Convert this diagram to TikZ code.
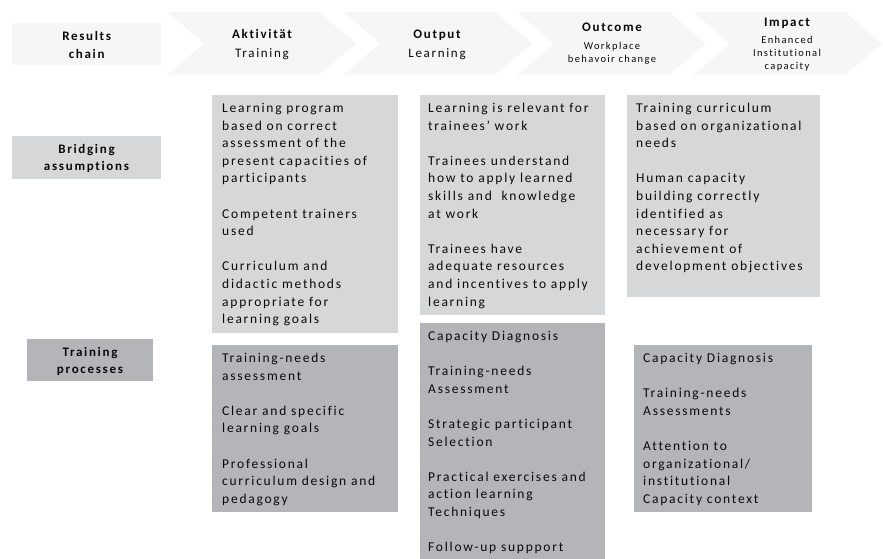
\documentclass[tikz,border=0pt]{standalone}
\usepackage{fontspec}
\setmainfont{Carlito}[LetterSpace=13,Ligatures=NoCommon]
\definecolor{chevfill}{HTML}{F6F6F6}
\definecolor{lightfill}{HTML}{D6D7D9}
\definecolor{darkfill}{HTML}{B3B5B8}
\definecolor{txt}{HTML}{0A0A0A}
\newcommand{\bodyfont}{\fontsize{13.5}{17.6}\selectfont}
\newcommand{\headfont}{\fontsize{13}{17.5}\selectfont\bfseries}
\newcommand{\subfont}{\fontsize{10.5}{12.8}\selectfont}
\tikzset{
  chev/.style={fill=chevfill, draw=none},
  lightbox/.style={fill=lightfill, draw=none, inner sep=0pt, outer sep=0pt, anchor=north west},
  darkbox/.style={fill=darkfill, draw=none, inner sep=0pt, outer sep=0pt, anchor=north west},
  bodytext/.style={font=\bodyfont, text=txt, align=left, inner sep=0pt, anchor=north west},
  headtext/.style={font=\headfont, text=txt, align=center, inner sep=0pt},
  subtext/.style={font=\subfont, text=txt, align=center, inner sep=0pt},
}
\begin{document}
\begin{tikzpicture}[x=1pt,y=-1pt]
\useasboundingbox (0,0) rectangle (883,558);
% header band
\node[fill=chevfill, inner sep=0pt, anchor=north west, minimum width=149pt, minimum height=42pt] (rc) at (12,23) {};
\node[headtext] (rct) at ([yshift=-1pt]rc.center) {Results\\chain};
\foreach \x/\n in {167/c1,343/c2,517/c3,693/c4}{
  \fill[chev] (\x,12) -- ++(152,0) -- ++(37,31.5) -- ++(-37,31.5) -- ++(-152,0) -- ++(37,-31.5) -- cycle;
}
\node[headtext, anchor=base] (h1) at (262,38.5) {Aktivität};
\node[font=\fontsize{13}{16}\selectfont, text=txt, inner sep=0pt, anchor=base] (h1s) at (262,57) {Training};
\node[headtext, anchor=base] (h2) at (437,38.5) {Output};
\node[font=\fontsize{13}{16}\selectfont, text=txt, inner sep=0pt, anchor=base] (h2s) at (437,57) {Learning};
\node[headtext, anchor=base] (h3) at (612,31.5) {Outcome};
\node[subtext, anchor=north] (h3s) at (612,42.5) {Workplace\\behavoir change};
\node[headtext, anchor=base] (h4) at (787,26.5) {Impact};
\node[subtext, anchor=north] (h4s) at (787,36) {Enhanced\\Institutional\\capacity};
% row labels
\node[lightbox, minimum width=149pt, minimum height=43pt] (ba) at (12,136) {};
\node[headtext, font=\fontsize{13}{17}\selectfont\bfseries] (bat) at ([yshift=-1pt]ba.center) {Bridging\\assumptions};
\node[darkbox, minimum width=126pt, minimum height=42pt] (tp) at (27,339) {};
\node[headtext, font=\fontsize{13}{17}\selectfont\bfseries] (tpt) at ([yshift=-1pt]tp.center) {Training\\processes};
% content boxes
\node[lightbox, minimum width=186pt, minimum height=238pt] (a1) at (212,95) {};
\node[darkbox, minimum width=186pt, minimum height=167pt] (a2) at (212,345) {};
\node[lightbox, minimum width=185pt, minimum height=220pt] (b1) at (420,95) {};
\node[darkbox, minimum width=185pt, minimum height=240pt] (b2) at (420,323) {};
\node[lightbox, minimum width=193pt, minimum height=202pt] (c1) at (627,95) {};
\node[darkbox, minimum width=178pt, minimum height=167pt] (c2) at (634,345) {};
% texts
\node[bodytext] (a1t) at ([xshift=10pt,yshift=-5pt]a1.north west) {\strut Learning program\\based on correct\\assessment of the\\present capacities of\\participants\\[17.6pt]Competent trainers\\used\\[17.6pt]Curriculum and\\didactic methods\\appropriate for\\learning goals};
\node[bodytext] (a2t) at ([xshift=10pt,yshift=-5pt]a2.north west) {\strut Training-needs\\assessment\\[17.6pt]Clear and specific\\learning goals\\[17.6pt]Professional\\curriculum design and\\pedagogy};
\node[bodytext] (b1t) at ([xshift=8pt,yshift=-5pt]b1.north west) {\strut Learning is relevant for\\trainees’ work\\[17.6pt]Trainees understand\\how to apply learned\\skills and\ \ knowledge\\at work\\[17.6pt]Trainees have\\adequate resources\\and incentives to apply\\learning};
\node[bodytext] (b2t) at ([xshift=8pt,yshift=-5pt]b2.north west) {\strut Capacity Diagnosis\\[17.6pt]Training-needs\\Assessment\\[17.6pt]Strategic participant\\Selection\\[17.6pt]Practical exercises and\\action learning\\Techniques\\[17.6pt]Follow-up suppport};
\node[bodytext] (c1t) at ([xshift=9pt,yshift=-5pt]c1.north west) {\strut Training curriculum\\based on organizational\\needs\\[17.6pt]Human capacity\\building correctly\\identified as\\necessary for\\achievement of\\development objectives};
\node[bodytext] (c2t) at ([xshift=9pt,yshift=-5pt]c2.north west) {\strut Capacity Diagnosis\\[17.6pt]Training-needs\\Assessments\\[17.6pt]Attention to\\organizational/\\institutional\\Capacity context};
\end{tikzpicture}
\end{document}
